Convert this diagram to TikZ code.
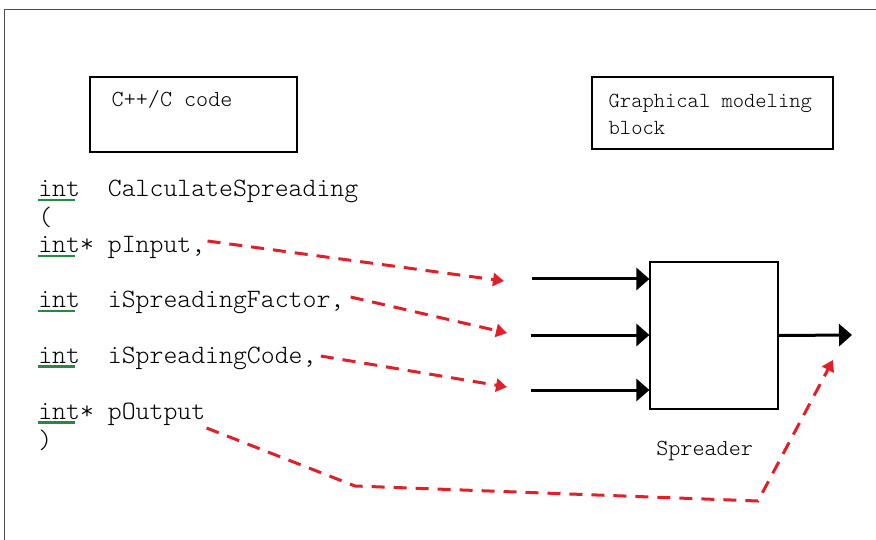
\documentclass[tikz,border=0pt]{standalone}
\usepackage{fontspec}
\setmonofont{Latin Modern Mono Light}
\usetikzlibrary{arrows.meta,calc,positioning}
\definecolor{dashred}{RGB}{226,30,38}
\definecolor{ulgreen}{RGB}{34,139,64}
% green underline under the type keyword
\newcommand{\kw}[1]{\rlap{\color{ulgreen}\rule[-4.5pt]{37pt}{2.5pt}}#1}

\begin{document}
\begin{tikzpicture}[x=1pt,y=-1pt,semithick]
	\tikzstyle{code}=[anchor=base west, inner sep=0pt, font=\ttfamily\fontsize{26.5}{28}\selectfont]
	\tikzstyle{lbl}=[anchor=base west, inner sep=0pt, font=\ttfamily\fontsize{23}{27}\selectfont]
	\tikzstyle{frame}=[draw, line width=1.2pt, inner sep=0pt]
	\tikzstyle{sig}=[line width=3pt, -{Triangle[length=13pt,width=22pt]}]
	\tikzstyle{map}=[dashred, line width=3pt, dash pattern=on 13pt off 9pt, -{Triangle[length=11pt,width=13pt]}]

	\useasboundingbox (0,0) rectangle (876,540);
	\draw[black!70, line width=1pt] (4,540) |- (876,10);

	% title boxes
	\node[frame, minimum width=207pt, minimum height=75pt] (cbox) at (193.5,114.5) {};
	\node[lbl] (ctitle) at ($(cbox.north west)+(22,30)$) {C++/C code};
	\node[frame, minimum width=241pt, minimum height=72pt] (gbox) at (712.5,113) {};
	\node[lbl, font=\ttfamily\fontsize{21.5}{27}\selectfont] (gl1) at ($(gbox.north west)+(17,31)$) {Graphical modeling};
	\node[lbl, font=\ttfamily\fontsize{21.5}{27}\selectfont] (gl2) at ($(gl1.base west)+(0,27)$) {block};

	% function signature
	\node[code] (l1) at (38,197) {\kw{int}~~CalculateSpreading};
	\node[code] (l2) at (38,226) {(};
	\node[code] (l3) at (38,253) {\kw{int}*~pInput,};
	\node[code] (l4) at (38,308) {\kw{int}~~iSpreadingFactor,};
	\node[code] (l5) at (38,363) {\kw{int}~~iSpreadingCode,};
	\node[code] (l6) at (38,419) {\kw{int}*~pOutput};
	\node[code] (l7) at (38,448) {)};

	% block
	\node[frame, minimum width=128pt, minimum height=147pt] (spr) at (714,335.5) {};
	\node[lbl] (sprl) at (656,455) {Spreader};

	\coordinate (in1) at (532,279);
	\coordinate (in2) at (531,335);
	\coordinate (in3) at (531,390);
	\coordinate (out) at (852,335);
	\draw[sig] (in1) -- (in1 -| spr.west);
	\draw[sig] (in2) -- (in2 -| spr.west);
	\draw[sig] (in3) -- (in3 -| spr.west);
	\draw[sig] (spr.east) -- (out);

	% mapping of arguments to ports
	\coordinate (a1) at ($(l3.base east)+(2,-12)$);
	\coordinate (a2) at ($(l4.base east)+(6,-11)$);
	\coordinate (a3) at ($(l5.base east)+(4,-7)$);
	\coordinate (a4) at ($(l6.base east)+(1,9)$);
	\coordinate (t1) at (504,281);
	\coordinate (t2) at (507,333);
	\coordinate (t3) at (507,387);
	\coordinate (t4) at (833,360);
	\draw[map] (a1) -- (t1);
	\draw[map] (a2) -- (t2);
	\draw[map] (a3) -- (t3);
	\draw[map] (a4) -- (355,486) -- (758,501) -- (t4);
\end{tikzpicture}
\end{document}
